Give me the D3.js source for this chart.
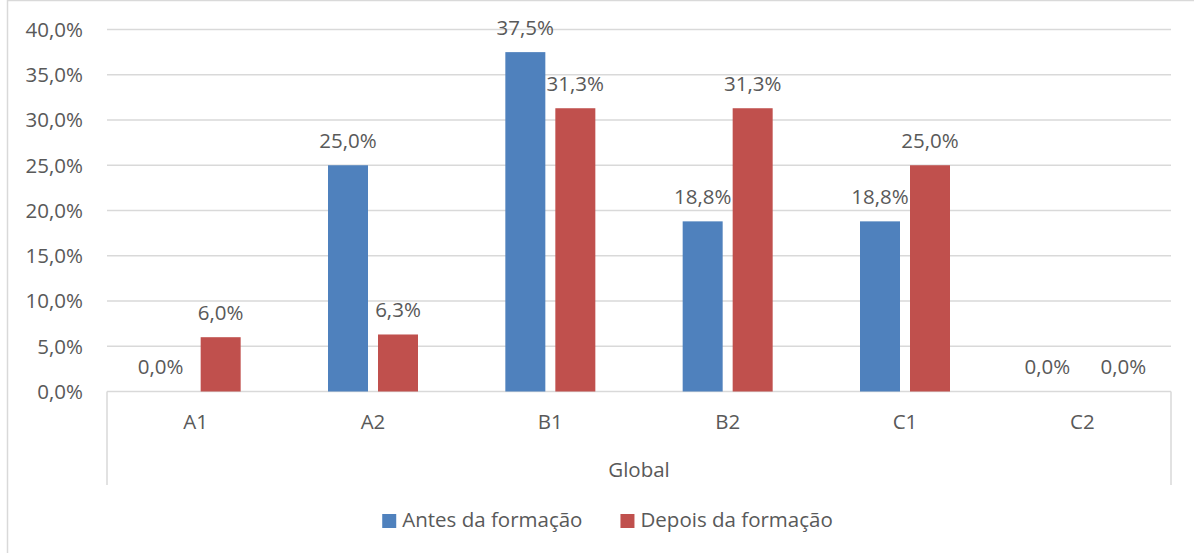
<!DOCTYPE html>
<html>
<head>
<meta charset="utf-8">
<script src="https://cdn.jsdelivr.net/npm/d3@7"></script>
<style>
  body { margin: 0; background: #fff; }
  svg text { font-family: "Open Sans", sans-serif; fill: #595959; font-size: 20.5px; }
</style>
</head>
<body>
<div id="chart"></div>
<script>
var categories = ['A1', 'A2', 'B1', 'B2', 'C1', 'C2'];
var seriesNames = ['Antes da formação', 'Depois da formação'];
var antes = [0.0, 25.0, 37.5, 18.8, 18.8, 0.0];
var depois = [6.0, 6.3, 31.3, 31.3, 25.0, 0.0];
var yTicks = [0, 5, 10, 15, 20, 25, 30, 35, 40];
var groupLabel = 'Global';

var colors = ['#4f81bd', '#c0504d'];
var seriesValues = [antes, depois];

var width = 1194, height = 553;
var plotLeft = 107, plotRight = 1171, plotTop = 29.5, plotBottom = 391.5;

var fmt = function(v) { return v.toFixed(1).replace('.', ',') + '%'; };

var svg = d3.select('#chart')
  .append('svg')
  .attr('width', width)
  .attr('height', height);

// chart frame (only left and top edges visible in the crop)
svg.append('path')
  .attr('d', 'M7.5,' + height + 'V0.5H' + width)
  .attr('fill', 'none')
  .attr('stroke', '#d9d9d9')
  .attr('stroke-width', 1.5);

var y = d3.scaleLinear().domain([0, 40]).range([plotBottom, plotTop]);
var x = d3.scaleBand().domain(categories).range([plotLeft, plotRight]).paddingInner(0).paddingOuter(0);
var xs = d3.scaleBand().domain(seriesNames).range([0, 90]).paddingInner(0.2).paddingOuter(0);

// gridlines
svg.append('g')
  .selectAll('line')
  .data(yTicks)
  .enter()
  .append('line')
  .attr('x1', plotLeft)
  .attr('x2', plotRight)
  .attr('y1', function(d) { return y(d); })
  .attr('y2', function(d) { return y(d); })
  .attr('stroke', '#d9d9d9')
  .attr('stroke-width', 1.5);

// y labels
svg.append('g')
  .selectAll('text')
  .data(yTicks)
  .enter()
  .append('text')
  .attr('x', 83)
  .attr('y', function(d) { return y(d); })
  .attr('dy', '0.36em')
  .attr('text-anchor', 'end')
  .text(fmt);

// multi-level axis borders
svg.append('g')
  .selectAll('line')
  .data([plotLeft, plotRight])
  .enter()
  .append('line')
  .attr('x1', function(d) { return d; })
  .attr('x2', function(d) { return d; })
  .attr('y1', plotBottom)
  .attr('y2', 485)
  .attr('stroke', '#d9d9d9')
  .attr('stroke-width', 1.5);

// bars
var groups = svg.append('g')
  .selectAll('g')
  .data(seriesNames)
  .enter()
  .append('g')
  .attr('fill', function(d, i) { return colors[i]; });

var rows = function(s, i) {
  return categories.map(function(c, j) { return { cat: c, s: s, i: i, v: seriesValues[i][j] }; });
};

groups.selectAll('rect')
  .data(rows)
  .enter()
  .append('rect')
  .attr('x', function(d) { return x(d.cat) + x.bandwidth() / 2 - 45 + xs(d.s); })
  .attr('width', xs.bandwidth())
  .attr('y', function(d) { return y(d.v); })
  .attr('height', function(d) { return y(0) - y(d.v); });

// data labels
groups.selectAll('text')
  .data(rows)
  .enter()
  .append('text')
  .attr('x', function(d) {
    var cx = x(d.cat) + x.bandwidth() / 2 - 45 + xs(d.s) + xs.bandwidth() / 2;
    if (d.v === 0) cx += d.i === 0 ? -10 : 16;
    return cx;
  })
  .attr('y', function(d) { return y(d.v) - 17.5; })
  .attr('text-anchor', 'middle')
  .text(function(d) { return fmt(d.v); });

// category labels
svg.append('g')
  .selectAll('text')
  .data(categories)
  .enter()
  .append('text')
  .attr('x', function(d) { return x(d) + x.bandwidth() / 2; })
  .attr('y', 429)
  .attr('text-anchor', 'middle')
  .text(function(d) { return d; });

svg.append('text')
  .attr('x', (plotLeft + plotRight) / 2)
  .attr('y', 477)
  .attr('text-anchor', 'middle')
  .text(groupLabel);

// legend
var legend = svg.append('g');
var items = legend.selectAll('g')
  .data(seriesNames)
  .enter()
  .append('g');
items.append('rect')
  .attr('width', 14)
  .attr('height', 14)
  .attr('y', 514)
  .attr('fill', function(d, i) { return colors[i]; });
items.append('text')
  .attr('x', 20)
  .attr('y', 527)
  .text(function(d) { return d; });

var offs = [], cur = 0;
items.each(function() {
  offs.push(cur);
  cur += this.getBBox().width + 38;
});
var total = cur - 38;
var start = 607.5 - total / 2;
items.attr('transform', function(d, i) { return 'translate(' + (start + offs[i]) + ',0)'; });
</script>
</body>
</html>
